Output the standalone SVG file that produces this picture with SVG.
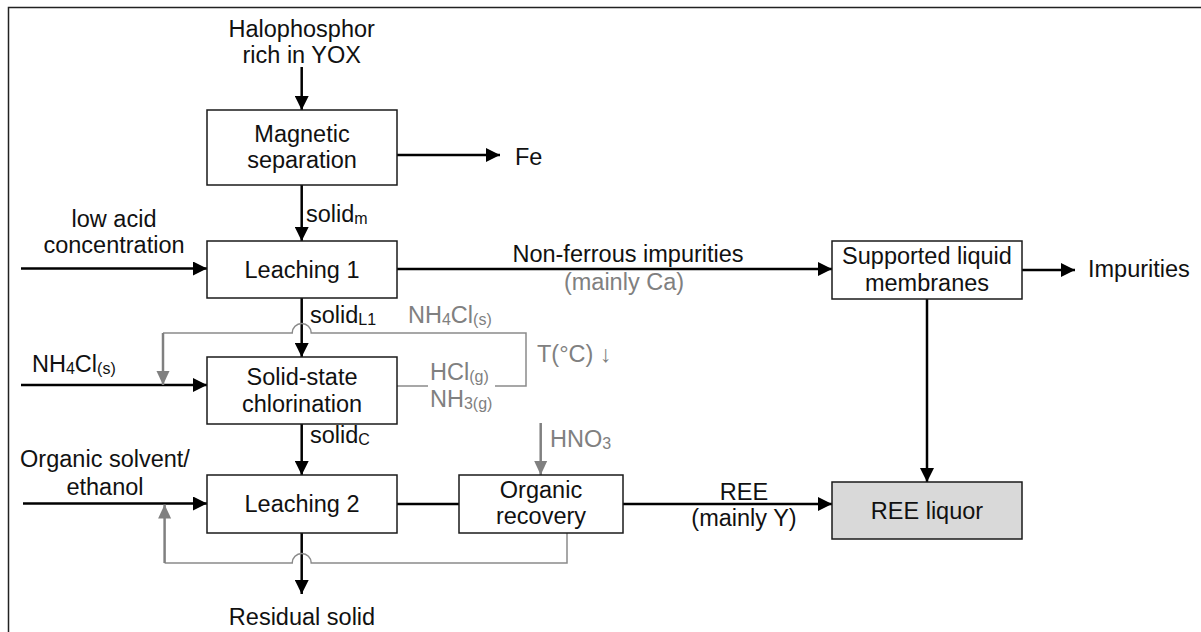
<svg xmlns="http://www.w3.org/2000/svg" width="1201" height="632" viewBox="0 0 1201 632">
<style>
text{font-family:"Liberation Sans",Arial,"DejaVu Sans",sans-serif;font-size:23.5px;fill:#111}
.m{text-anchor:middle}
.g{fill:#808080}
.sub{font-size:16px}
.box{fill:#fff;stroke:#1a1a1a;stroke-width:1.5}
.c{fill:none;stroke:#000;stroke-width:2.5}
.cg{fill:none;stroke:#808080;stroke-width:2.5}
.lg{fill:none;stroke:#8a8a8a;stroke-width:1.5}
</style>
<defs>
<marker id="ab" viewBox="0 0 14 14" refX="14" refY="7" markerWidth="14" markerHeight="14" markerUnits="userSpaceOnUse" orient="auto"><path d="M0 0L14 7L0 14z" fill="#000"/></marker>
<marker id="ag" viewBox="0 0 14 14" refX="14" refY="7" markerWidth="14" markerHeight="14" markerUnits="userSpaceOnUse" orient="auto"><path d="M0 0.5L14 7L0 13.5z" fill="#808080"/></marker>
</defs>
<rect x="8.5" y="7.5" width="1300" height="700" fill="#fff" stroke="#222" stroke-width="1.5"/>
<g id="connectors">
<path class="c" d="M301.7 67V110" marker-end="url(#ab)"/>
<path class="c" d="M397 155H500" marker-end="url(#ab)"/>
<path class="c" d="M301.7 185V241" marker-end="url(#ab)"/>
<path class="c" d="M21 268.5H207" marker-end="url(#ab)"/>
<path class="c" d="M397 269H832" marker-end="url(#ab)"/>
<path class="c" d="M1022 270H1075" marker-end="url(#ab)"/>
<path class="c" d="M301.7 298V357" marker-end="url(#ab)"/>
<path class="c" d="M21 385H207" marker-end="url(#ab)"/>
<path class="c" d="M301.7 424V475" marker-end="url(#ab)"/>
<path class="c" d="M23 503.5H207" marker-end="url(#ab)"/>
<path class="c" d="M397 504H459"/>
<path class="c" d="M623 504H832" marker-end="url(#ab)"/>
<path class="c" d="M927 299V482" marker-end="url(#ab)"/>
<path class="c" d="M301.7 533V594" marker-end="url(#ab)"/>
<path class="cg" d="M540.7 423V475" marker-end="url(#ag)"/>
<path class="lg" d="M397 386H428M495 386H526V333H311.2A9.5 9.5 0 0 0 292.2 333H163"/>
<path class="cg" d="M163 333V385" marker-end="url(#ag)"/>
<path class="lg" d="M567 533V563H311.2A9.5 9.5 0 0 0 292.2 563H164.6"/>
<path class="cg" d="M164.6 563V504.5" marker-end="url(#ag)"/>
</g>
<g id="labels">
<text class="m" x="301.7" y="37">Halophosphor</text>
<text class="m" x="301.7" y="63">rich in YOX</text>
<text x="515" y="165">Fe</text>
<text x="306" y="222">solid<tspan class="sub" dy="2">m</tspan></text>
<text class="m" x="114" y="227">low acid</text>
<text class="m" x="114" y="253">concentration</text>
<text class="m" x="628" y="262">Non-ferrous impurities</text>
<text class="m g" x="624" y="290">(mainly Ca)</text>
<text x="1088" y="277">Impurities</text>
<text x="310" y="323">solid<tspan class="sub" dy="2">L1</tspan></text>
<text class="g" x="408" y="323">NH<tspan class="sub" dy="2">4</tspan><tspan dy="-2">Cl</tspan><tspan class="sub" dy="2">(s)</tspan></text>
<text x="32" y="372">NH<tspan class="sub" dy="2">4</tspan><tspan dy="-2">Cl</tspan><tspan class="sub" dy="2">(s)</tspan></text>
<text class="g" x="537" y="362">T(°C) ↓</text>
<text class="g" x="430" y="380">HCl<tspan class="sub" dy="2">(g)</tspan></text>
<text class="g" x="430" y="407">NH<tspan class="sub" dy="2">3(g)</tspan></text>
<text x="310" y="443">solid<tspan class="sub" dy="2">C</tspan></text>
<text class="g" x="550" y="447">HNO<tspan class="sub" dy="2">3</tspan></text>
<text class="m" x="105" y="467">Organic solvent/</text>
<text class="m" x="105" y="495">ethanol</text>
<text class="m" x="744" y="500">REE</text>
<text class="m" x="744" y="526">(mainly Y)</text>
<text class="m" x="302" y="625">Residual solid</text>
</g>
<g id="magnetic-separation">
<rect class="box" x="207" y="110" width="190" height="75"/>
<text class="m" x="302" y="142">Magnetic</text>
<text class="m" x="302" y="168">separation</text>
</g>
<g id="leaching-1">
<rect class="box" x="207" y="241" width="190" height="57"/>
<text class="m" x="302" y="278">Leaching 1</text>
</g>
<g id="supported-liquid-membranes">
<rect class="box" x="832" y="241" width="190" height="58"/>
<text class="m" x="927" y="264">Supported liquid</text>
<text class="m" x="927" y="291">membranes</text>
</g>
<g id="solid-state-chlorination">
<rect class="box" x="207" y="357" width="190" height="67"/>
<text class="m" x="302" y="385">Solid-state</text>
<text class="m" x="302" y="412">chlorination</text>
</g>
<g id="leaching-2">
<rect class="box" x="207" y="475" width="190" height="58"/>
<text class="m" x="302" y="512">Leaching 2</text>
</g>
<g id="organic-recovery">
<rect class="box" x="459" y="475" width="164" height="58"/>
<text class="m" x="541" y="498">Organic</text>
<text class="m" x="541" y="524">recovery</text>
</g>
<g id="ree-liquor">
<rect class="box" x="832" y="482" width="190" height="57" style="fill:#d9d9d9"/>
<text class="m" x="927" y="519">REE liquor</text>
</g>
</svg>
